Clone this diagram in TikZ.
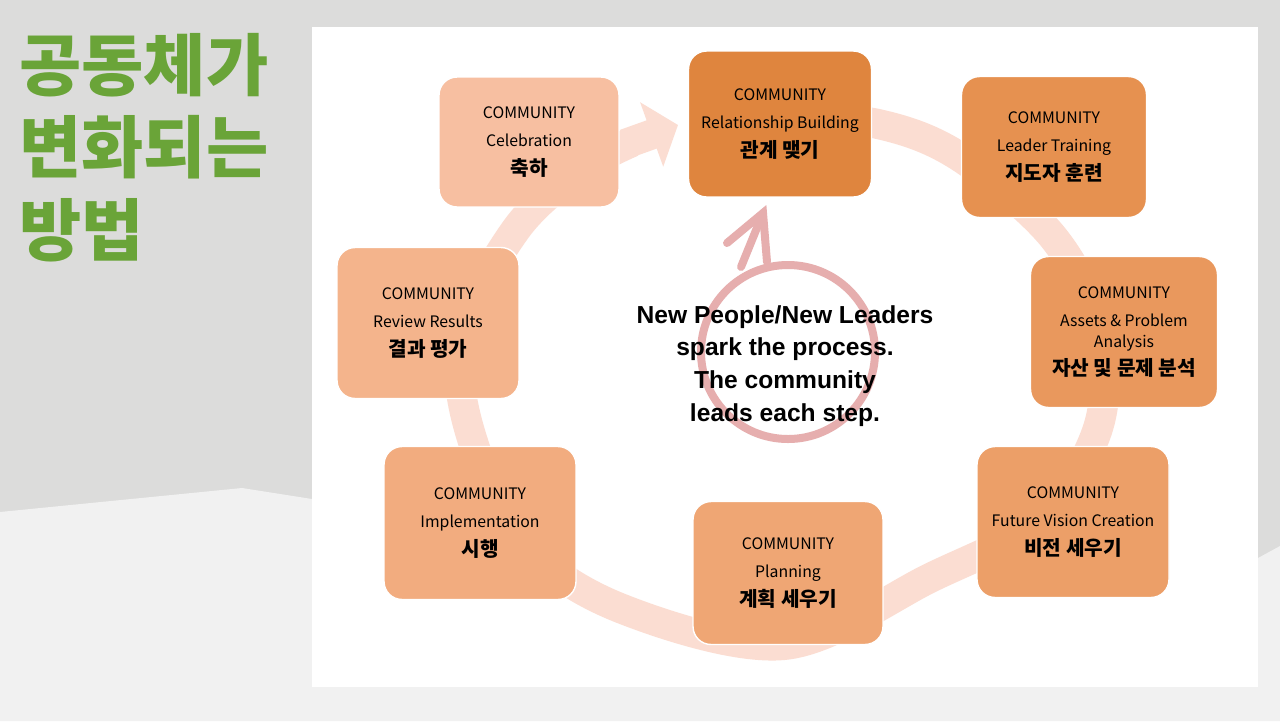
\documentclass[tikz,border=0pt]{standalone}
\usepackage{fontspec}
\setmainfont{Liberation Sans}
\newfontfamily\krfont{Noto Sans CJK KR}
\usetikzlibrary{arrows.meta}
\definecolor{bggray}{RGB}{220,220,219}
\definecolor{bglight}{RGB}{241,241,241}
\definecolor{titlegreen}{RGB}{106,164,56}
\definecolor{bandpink}{RGB}{251,221,210}
\definecolor{ringpink}{RGB}{230,174,174}
\definecolor{stepa}{RGB}{223,133,62}
\definecolor{stepb}{RGB}{230,145,80}
\definecolor{stepc}{RGB}{233,152,93}
\definecolor{stepd}{RGB}{236,159,104}
\definecolor{stepe}{RGB}{239,166,116}
\definecolor{stepf}{RGB}{242,172,127}
\definecolor{stepg}{RGB}{244,180,140}
\definecolor{steph}{RGB}{247,191,161}
\newcommand{\krtxt}[1]{{\fontsize{11.5}{16}\selectfont\bfseries #1}}
\tikzset{
    mybox/.style = {rounded corners=0.36cm, draw=white, line width=0.8pt, align=center, fill=#1, font=\krfont\fontsize{9}{16}\selectfont, text=black, inner sep=2pt},
    bandline/.style = {line width=0.6cm, bandpink}, % cycle
    ringline/.style = {line width=0.16cm, ringpink}
}
\begin{document}
\begin{tikzpicture}[x=0.02cm, y=-0.02cm]
\useasboundingbox (0,0) rectangle (1280,721);
\fill[bggray] (0,0) rectangle (1280,721);
\fill[bglight] (0,512) -- (242,488) -- (312,499) -- (1258,558) -- (1280,546) -- (1280,721) -- (0,721) -- cycle;
\fill[white] (312,27) rectangle (1258,687);
%
\draw[bandline] plot[smooth, tension=0.55] coordinates {(760,112) (878,124) (960,157) (1053,237) (1100,330) (1098,428) (1040,520) (930,578) (784,645) (620,608) (520,540) (468,425) (463,330) (517,228) (580,170) (632,142)};
\draw[bandline, -{Triangle[length=0.56cm, width=1.34cm]}] (625,144) -- (678,125);
%
\draw[ringline] (788,352) circle[radius=87];
\draw[ringline, line cap=round] (741,267) -- (763,213);
\draw[ringline, line cap=round] (727,243) -- (763,213) -- (767,262);
\node[font=\bfseries\fontsize{14}{18.7}\selectfont, align=center] at (785,366) (spark) {New People/New Leaders\\spark the process.\\The community\\leads each step.};
%
\node[mybox=stepa, minimum width=3.66cm, minimum height=2.92cm] at (780,124) (relat) {COMMUNITY\\Relationship Building\\\krtxt{관계 맺기}};
\node[mybox=stepb, minimum width=3.7cm, minimum height=2.82cm] at (1054,147) (leader) {COMMUNITY\\Leader Training\\\krtxt{지도자 훈련}};
\node[mybox=stepc, minimum width=3.74cm, minimum height=3.02cm] at (1124,332) (assets) {COMMUNITY\\Assets \& Problem\\[-4.5pt]Analysis\\\krtxt{자산 및 문제 분석}};
\node[mybox=stepd, minimum width=3.84cm, minimum height=3.02cm] at (1073,522) (vision) {COMMUNITY\\Future Vision Creation\\\krtxt{비전 세우기}};
\node[mybox=stepe, minimum width=3.8cm, minimum height=2.86cm] at (788,573) (plan) {COMMUNITY\\Planning\\\krtxt{계획 세우기}};
\node[mybox=stepf, minimum width=3.84cm, minimum height=3.06cm] at (480,523) (impl) {COMMUNITY\\Implementation\\\krtxt{시행}};
\node[mybox=stepg, minimum width=3.64cm, minimum height=3.02cm] at (428,323) (review) {COMMUNITY\\Review Results\\\krtxt{결과 평가}};
\node[mybox=steph, minimum width=3.6cm, minimum height=2.6cm] at (529,142) (celeb) {COMMUNITY\\Celebration\\\krtxt{축하}};
%
\node[anchor=base west, inner sep=0pt, text=titlegreen, align=left, font=\krfont\bfseries\fontsize{38.5}{46.7}\selectfont] at (19,255) (title) {공동체가\\변화되는\\방법};
\end{tikzpicture}
\end{document}
